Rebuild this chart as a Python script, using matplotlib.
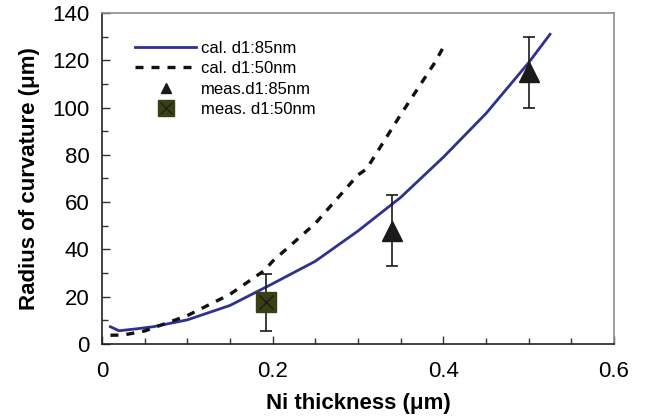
import matplotlib
matplotlib.use("Agg")
import matplotlib.pyplot as plt
from matplotlib.lines import Line2D
from matplotlib.ticker import MultipleLocator, FuncFormatter

plt.rcParams['font.family'] = ['Liberation Sans', 'DejaVu Sans']

# calculated curves
cal85_x = [0.01, 0.02, 0.04, 0.06, 0.1, 0.15, 0.2, 0.25, 0.3, 0.35, 0.4, 0.45, 0.5, 0.525]
cal85_y = [7.3, 5.6, 6.4, 7.3, 10.2, 16.3, 25.5, 35, 47.8, 62, 79, 97.5, 119, 131]
cal50_x = [0.01, 0.025, 0.05, 0.1, 0.15, 0.19, 0.2, 0.25, 0.3, 0.31, 0.35, 0.39, 0.4]
cal50_y = [3.7, 3.8, 5.5, 12, 21, 31, 35, 51, 71.5, 74, 97, 119, 125.5]

# measurements
meas85_x = [0.34, 0.5]
meas85_y = [48, 115]
meas85_err = [15, 15]
meas50_x = [0.192]
meas50_y = [17.6]
meas50_err = [12]

blue = '#2E3192'
olive = '#3A3F14'

fig = plt.figure(figsize=(6.45, 4.19), dpi=100)
ax = fig.add_axes([0.158, 0.179, 0.794, 0.790])

ax.plot(cal85_x, cal85_y, color=blue, lw=2.0)
ax.plot(cal50_x, cal50_y, color='#111111', lw=2.4, dashes=(2.4, 2.4))

ax.errorbar(meas85_x, meas85_y, yerr=meas85_err, fmt='^', color='#1a1a1a', ms=15,
            ecolor='#1a1a1a', elinewidth=1.2, capsize=4.5, capthick=1.2, zorder=4)
ax.errorbar(meas50_x, meas50_y, yerr=meas50_err, fmt='none', ecolor='#1a1a1a',
            elinewidth=1.2, capsize=4.5, capthick=1.2, zorder=4)
ax.plot(meas50_x, meas50_y, 's', ms=15, color=olive, mec=olive, zorder=5)
ax.plot(meas50_x, meas50_y, 'x', ms=10, color='#1a1a1a', mew=1.0, zorder=6)

ax.set_xlim(0, 0.6)
ax.set_ylim(0, 140)
ax.xaxis.set_major_locator(MultipleLocator(0.2))
ax.xaxis.set_minor_locator(MultipleLocator(0.05))
ax.yaxis.set_major_locator(MultipleLocator(20))
ax.yaxis.set_minor_locator(MultipleLocator(10))
ax.xaxis.set_major_formatter(FuncFormatter(lambda v, p: '0' if v == 0 else '%.1f' % v))
ax.tick_params(which='both', direction='in', labelsize=16, color='#333333')
ax.tick_params(which='major', length=6, width=1.0)
ax.tick_params(which='minor', length=4, width=1.0)
ax.tick_params(axis='x', pad=12)
ax.tick_params(axis='y', pad=9)

for s in ['left', 'bottom']:
    ax.spines[s].set_color('#222222')
    ax.spines[s].set_linewidth(1.2)
for s in ['top', 'right']:
    ax.spines[s].set_color('#8a8f94')
    ax.spines[s].set_linewidth(1.2)

ax.set_xlabel('Ni thickness (\u03bcm)', fontsize=16, fontweight='bold', labelpad=8)
ax.set_ylabel('Radius of curvature (\u03bcm)', fontsize=16, fontweight='bold', labelpad=9)

h1 = Line2D([], [], color=blue, lw=2.0)
h2 = Line2D([], [], color='#111111', lw=2.4, dashes=(2.4, 2.4))
h3 = Line2D([], [], ls='none', marker='^', ms=7, color='#1a1a1a')
h4a = Line2D([], [], ls='none', marker='s', ms=11, color=olive)
h4b = Line2D([], [], ls='none', marker='x', ms=8, color='#1a1a1a', mew=0.8)
ax.legend([h1, h2, h3, (h4a, h4b)],
          ['cal. d1:85nm', 'cal. d1:50nm', 'meas.d1:85nm', 'meas. d1:50nm'],
          loc='upper left', bbox_to_anchor=(0.051, 0.937), frameon=False,
          fontsize=12, handlelength=3.7, handletextpad=0.3, labelspacing=0.33,
          borderaxespad=0)

fig.savefig('out.png', dpi=100)
